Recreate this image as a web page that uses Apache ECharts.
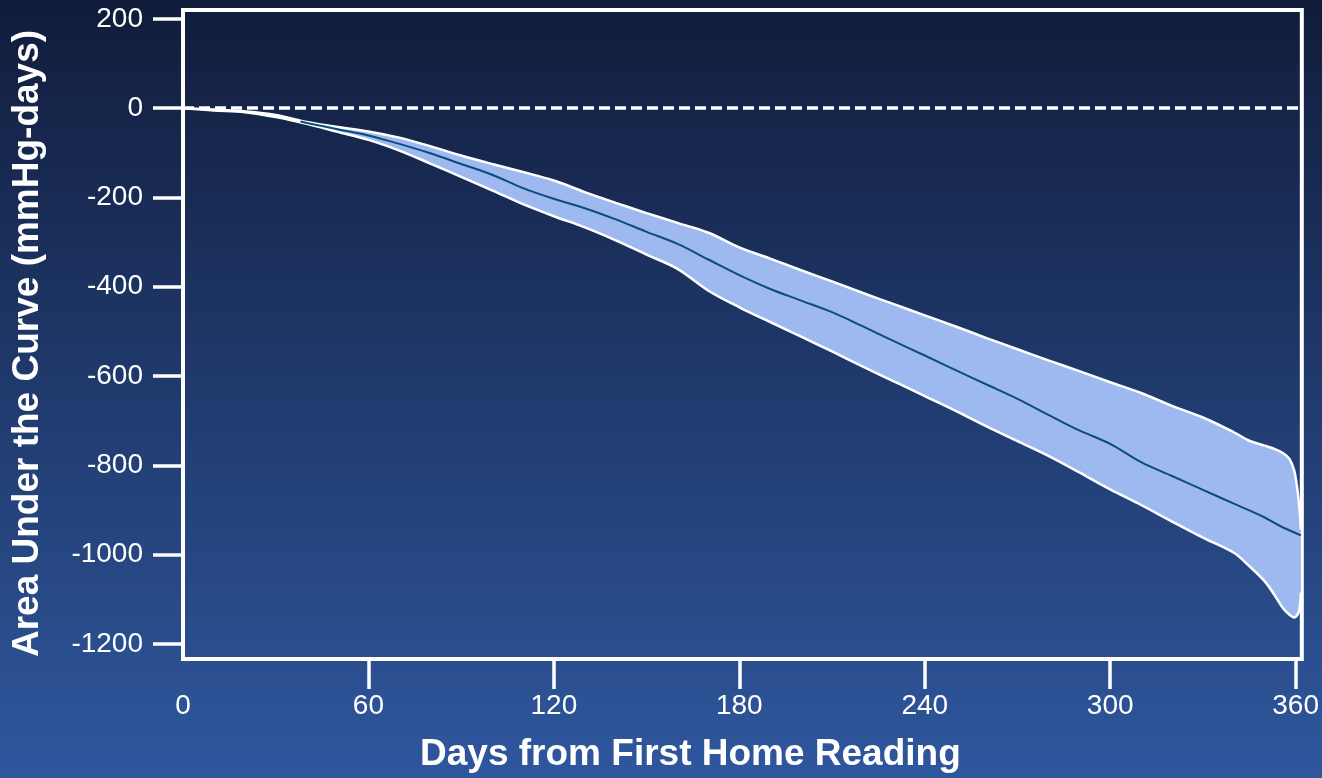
<!DOCTYPE html>
<html>
<head>
<meta charset="utf-8">
<title>Area Under the Curve</title>
<script src="https://cdn.jsdelivr.net/npm/echarts@6/dist/echarts.min.js"></script>
<style>
  html, body { margin: 0; padding: 0; width: 100%; height: 100%; }
  #chart { width: 1322px; height: 778px; }
</style>
</head>
<body>
<div id="chart"></div>
<script>
// Cumulative area under the curve over the first year of home readings
const days = [0, 10, 20, 30, 40, 50, 60, 70, 80, 90, 100, 110, 120, 130, 140, 150, 160, 170, 180, 190,
  200, 210, 220, 230, 240, 250, 260, 270, 280, 290, 300, 310, 320, 330, 340, 345, 350, 353, 356, 358,
  359.5, 360.5, 361.2, 361.7];

// Upper and lower limits of the confidence band (mmHg-days)
const upperBound = [0, -3, -7, -15, -31, -42, -52, -66, -85, -106, -125, -143, -162, -188, -212, -235, -257, -279, -312, -337,
  -363, -388, -414, -439, -464, -489, -515, -540, -565, -589, -614, -638, -667, -693, -726, -745, -756, -763, -773, -786,
  -811, -851, -895, -944];
const lowerBound = [0, -5, -9, -20, -35, -53, -71, -95, -124, -154, -184, -215, -242, -267, -296, -328, -360, -409, -446, -479,
  -512, -545, -579, -612, -645, -678, -713, -746, -779, -816, -854, -889, -926, -962, -996, -1026, -1060, -1089, -1121, -1135,
  -1141, -1136, -1123, -1085];

// Mean estimate
const meanDays = [38, 40, 50, 60, 70, 80, 90, 100, 110, 120, 130, 140, 150, 160, 170, 180, 190, 200, 210, 220,
  230, 240, 250, 260, 270, 280, 290, 300, 310, 320, 330, 340, 345, 350, 355, 361.7];
const meanAuc = [-30, -33, -47, -61, -80, -101, -125, -149, -179, -203, -224, -249, -277, -304, -339, -374, -405, -431, -457, -489,
  -522, -554, -587, -619, -651, -687, -722, -752, -793, -824, -855, -886, -901, -917, -936, -957];

const xTicks = [0, 60, 120, 180, 240, 300, 360];
const yTicks = [-1200, -1000, -800, -600, -400, -200, 0, 200];

const FONT = '"Liberation Sans", Arial, Helvetica, sans-serif';

const chart = echarts.init(document.getElementById('chart'), null, { renderer: 'canvas' });

// Rows are [value, day]: the value column comes first so that the stack
// accumulates on the y dimension while the x axis stays numeric.
const lowerRows = days.map((d, i) => [lowerBound[i], d]);
const widthRows = days.map((d, i) => [upperBound[i] - lowerBound[i], d]);

const bandLine = {
  type: 'line',
  stack: 'band',
  stackStrategy: 'all',
  smooth: 0.35,
  showSymbol: false,
  symbol: 'none',
  encode: { x: 1, y: 0 },
  lineStyle: { color: '#ffffff', width: 2.5 }
};

const option = {
  animation: false,
  backgroundColor: {
    type: 'linear', x: 0, y: 0, x2: 0, y2: 1,
    colorStops: [
      { offset: 0, color: '#111c3b' },
      { offset: 0.5, color: '#203a6d' },
      { offset: 1, color: '#2f579e' }
    ]
  },
  grid: {
    left: 183, right: 14, top: 10, bottom: 116,
    show: true,
    borderColor: '#ffffff',
    borderWidth: 4,
    backgroundColor: 'transparent'
  },
  xAxis: {
    type: 'value',
    min: 0,
    max: 362,
    name: 'Days from First Home Reading',
    nameLocation: 'middle',
    nameGap: 77,
    nameTextStyle: {
      color: '#ffffff', fontSize: 37, fontWeight: 'bold', fontFamily: FONT,
      padding: [0, 104, 0, 0]
    },
    splitLine: { show: false },
    axisLine: { show: false, onZero: false },
    axisTick: {
      show: true, inside: false, length: 30,
      customValues: xTicks.filter(v => v > 0),
      lineStyle: { color: '#ffffff', width: 3.5 }
    },
    axisLabel: {
      customValues: xTicks,
      formatter: v => String(v),
      color: '#ffffff', fontSize: 28, fontFamily: FONT, margin: 33
    }
  },
  yAxis: {
    type: 'value',
    min: -1234,
    max: 220,
    name: 'Area Under the Curve (mmHg-days)',
    nameLocation: 'middle',
    nameGap: 137,
    nameTextStyle: {
      color: '#ffffff', fontSize: 37, fontWeight: 'bold', fontFamily: FONT,
      padding: [0, 18, 0, 0]
    },
    splitLine: { show: false },
    axisLine: { show: false, onZero: false },
    axisTick: {
      show: true, inside: false, length: 30,
      customValues: yTicks,
      lineStyle: { color: '#ffffff', width: 3.5 }
    },
    axisLabel: {
      customValues: yTicks,
      formatter: v => String(v),
      color: '#ffffff', fontSize: 28, fontFamily: FONT, margin: 40
    }
  },
  series: [
    Object.assign({}, bandLine, {
      name: 'Lower limit',
      z: 3,
      data: lowerRows
    }),
    Object.assign({}, bandLine, {
      name: 'Upper limit',
      z: 2,
      areaStyle: { color: '#9db9f0', opacity: 1 },
      data: widthRows
    }),
    {
      name: 'Mean',
      type: 'line',
      smooth: 0.35,
      showSymbol: false,
      symbol: 'none',
      z: 4,
      lineStyle: { color: '#0a4d7c', width: 2 },
      data: meanDays.map((d, i) => [d, meanAuc[i]]),
      markLine: {
        silent: true,
        symbol: ['none', 'none'],
        label: { show: false },
        lineStyle: { color: '#ffffff', type: [11, 5], width: 3.5 },
        data: [{ yAxis: 0 }]
      }
    }
  ]
};

chart.setOption(option);
</script>
</body>
</html>
